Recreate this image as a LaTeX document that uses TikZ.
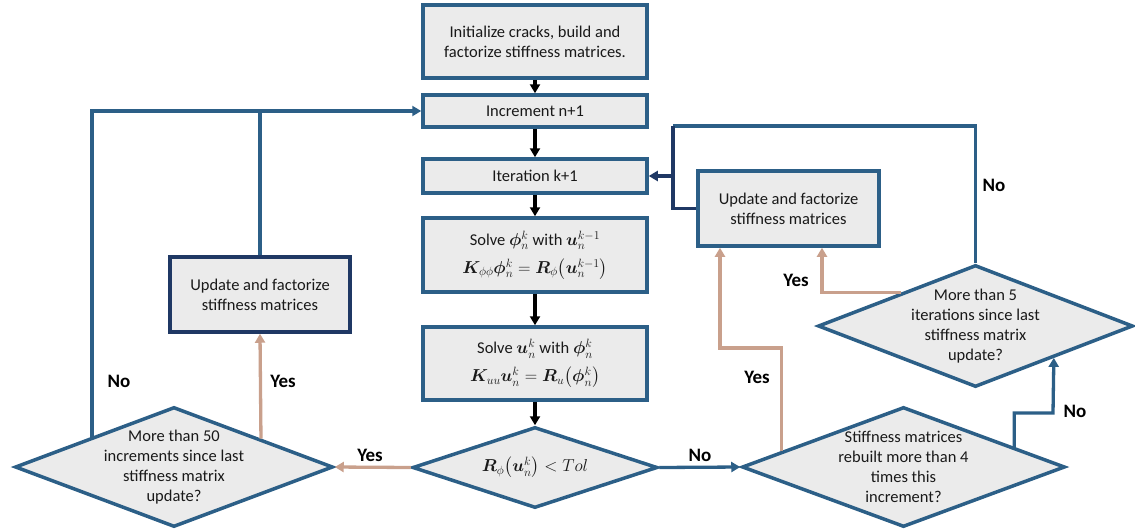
\documentclass[tikz,border=0pt]{standalone}
\usepackage{amsmath,bm}
\usepackage{fontspec}
\setmainfont{Carlito}
\usetikzlibrary{shapes.geometric,arrows.meta,calc}
\definecolor{cblue}{RGB}{44,95,135}
\definecolor{cnavy}{RGB}{31,56,100}
\definecolor{ctan}{RGB}{201,160,140}
\definecolor{cfill}{RGB}{235,235,235}
\definecolor{ctext}{RGB}{25,25,25}
\begin{document}
\begin{tikzpicture}[x=1pt,y=-1pt,
  txt/.style={font=\fontsize{16.5}{20}\selectfont, text=ctext, align=center},
  mtxt/.style={font=\fontsize{17.5}{24}\selectfont, text=ctext, align=center},
  box/.style={txt, draw=cblue, line width=3.5pt, fill=cfill, inner sep=0pt},
  dia/.style={diamond, draw=cblue, line width=3.5pt, fill=cfill, inner sep=0pt},
  lab/.style={font=\fontsize{19}{22}\selectfont\bfseries, text=black},
  tip/.style={-{Triangle[length=9pt,width=10pt]}},
  blk/.style={tip, draw=black, line width=3.6pt},
  bl/.style={draw=cblue, line width=3.3pt},
  nv/.style={draw=cnavy, line width=3.3pt},
  tn/.style={draw=ctan, line width=3.3pt}]
\useasboundingbox (0,0) rectangle (1135,528);

% boxes
\node[box, minimum width=224pt, minimum height=73pt] (init) at (535,41.5) {Initialize cracks, build and\\factorize stiffness matrices.};
\node[box, minimum width=224pt, minimum height=32pt] (inc) at (535,111) {Increment n+1};
\node[box, minimum width=224pt, minimum height=34pt] (iter) at (535,176) {Iteration k+1};
\node[box, mtxt, minimum width=224pt, minimum height=74pt] (sphi) at (535,255) {\fontsize{16.5}{20}\selectfont Solve $\bm{\phi}_n^k$ with $\bm{u}_n^{k-1}$\\[4pt]$\bm{K}_{\phi\phi}\bm{\phi}_n^k=\bm{R}_\phi\bigl(\bm{u}_n^{k-1}\bigr)$};
\node[box, mtxt, minimum width=224pt, minimum height=73pt] (su) at (535,363.5) {\fontsize{16.5}{20}\selectfont Solve $\bm{u}_n^k$ with $\bm{\phi}_n^k$\\[4pt]$\bm{K}_{uu}\bm{u}_n^k=\bm{R}_u\bigl(\bm{\phi}_n^k\bigr)$};
\node[box, draw=cnavy, minimum width=180pt, minimum height=75pt] (upL) at (260,294.5) {Update and factorize\\stiffness matrices};
\node[box, minimum width=181pt, minimum height=75pt] (upR) at (788.5,208.5) {Update and factorize\\stiffness matrices};

% diamonds
\node[dia, minimum width=245pt, minimum height=81pt, label={[mtxt]center:$\bm{R}_\phi\bigl(\bm{u}_n^k\bigr) < Tol$}] (dR) at (535,467.5) {};
\node[dia, minimum width=318pt, minimum height=120pt, label={[txt]center:More than 50\\increments since last\\stiffness matrix\\update?}] (d50) at (174,467) {};
\node[dia, minimum width=323pt, minimum height=120pt, label={[txt]center:Stiffness matrices\\rebuilt more than 4\\times this\\increment?}] (dS) at (903.5,467) {};
\node[dia, minimum width=315pt, minimum height=122pt, label={[txt]center:More than 5\\iterations since last\\stiffness matrix\\update?}] (d5) at (975.5,326) {};

% labels
\node[lab] (l1) at (700,455) {No};
\node[lab] (l2) at (370,455) {Yes};
\node[lab] (l3) at (119,381) {No};
\node[lab] (l4) at (283,381) {Yes};
\node[lab] (l5) at (757,377) {Yes};
\node[lab] (l6) at (796,280) {Yes};
\node[lab] (l7) at (994,185) {No};
\node[lab] (l8) at (1075,411) {No};

% main column
\draw[blk] (init.south) -- (inc.north);
\draw[blk] (inc.south) -- (iter.north);
\draw[blk] (iter.south) -- (sphi.north);
\draw[blk] (sphi.south) -- (su.north);
\draw[blk] (su.south) -- (dR.north);

% Rphi diamond outputs
\draw[bl, tip] (dR.east) -- (dS.west);
\draw[tn, tip] (dR.west) -- (d50.east);

% left diamond
\draw[bl, tip] ($(d50.west)!0.49!(d50.north)$) |- (inc.west);
\draw[tn, tip] ($(d50.north)!0.541!(d50.east)$) -- (upL.south);
\draw[bl] (upL.north) -- (upL.north |- inc.west);

% stiffness diamond
\coordinate (ya) at (720,348);
\draw[tn, tip] ($(dS.west)!0.254!(dS.north)$) |- (ya) -- (ya |- upR.south);
\coordinate (nb) at (1053,413);
\draw[bl, tip] ($(dS.north)!0.678!(dS.east)$) |- (nb) -- ($(d5.south)!0.492!(d5.east)$);

% 5-iterations diamond
\draw[tn, tip] ($(d5.west)!0.533!(d5.north)$) -| ($(upR.south)+(33.5,0)$);
\coordinate (lp) at (673,126);
\draw[bl] (d5.north) |- (lp);
\draw[nv] (lp) -- (lp |- upR.west) -- (upR.west);
\draw[nv, tip] (lp |- iter.east) -- (iter.east);
\end{tikzpicture}
\end{document}
